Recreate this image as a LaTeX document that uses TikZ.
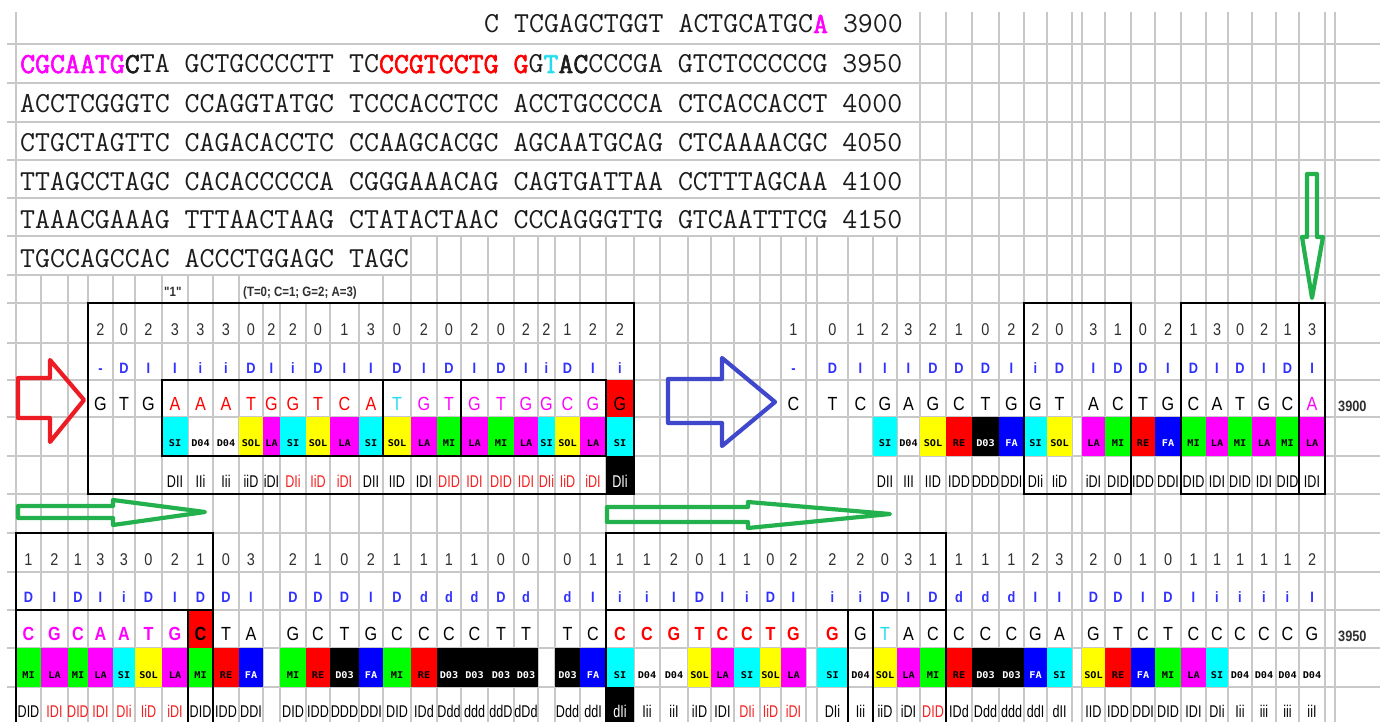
\documentclass[tikz,border=0pt]{standalone}
\usepackage{fontspec}
\setmainfont{Liberation Sans}
\newfontfamily\seqf{Latin Modern Mono}
\newfontfamily\seqfb[FakeBold=2.2]{Latin Modern Mono}
\newfontfamily\tabf[FakeStretch=0.85]{Liberation Sans}
\newfontfamily\codef[FakeStretch=0.74]{Liberation Sans}
\newfontfamily\pixf[FakeStretch=1.1]{DejaVu Sans Mono}

\definecolor{gridc}{HTML}{C8C8C8}
\definecolor{xcyan}{HTML}{00FFFF}
\definecolor{xyellow}{HTML}{FFFF00}
\definecolor{xmag}{HTML}{FF00FF}
\definecolor{xgreen}{HTML}{00FF00}
\definecolor{xred}{HTML}{FF0000}
\definecolor{xblue}{HTML}{0000FF}
\definecolor{tcyan}{HTML}{22DDEE}
\definecolor{codered}{HTML}{F42020}
\definecolor{dibl}{HTML}{3030FF}
\definecolor{numc}{HTML}{303030}
\definecolor{seqc}{HTML}{1C1C1C}
\definecolor{pred}{HTML}{ED1C24}
\definecolor{pgreen}{HTML}{22B14C}
\definecolor{pblue}{HTML}{3F48CC}

% column boundaries of the sheet
\def\xb{{16,41,68,88,113,135,162,188,213,239,263,280,306,330,359,383,411,437,461,488,514,538,555,580,606,634,660,688,711,734,760,781,806,817,848,873,897,920,946,972,999,1024,1047,1072,1082,1105,1131,1155,1181,1206,1228,1252,1276,1299,1325,1335,1380}}
\newcommand\cellx[1]{\pgfmathsetmacro\cxl{\xb[#1]}\pgfmathsetmacro\cxr{\xb[#1+1]}\pgfmathsetmacro\cxm{(\cxl+\cxr)/2}}
\newcommand\seqbold[1]{{\seqfb #1}}
% fixed-pitch word space for the sequence font
\newcommand\seqsetup{\seqf\fontsize{29.03}{29}\selectfont\fontdimen2\font=\fontcharwd\font`A\fontdimen3\font=0pt\fontdimen4\font=0pt}

\begin{document}
\begin{tikzpicture}[x=1pt,y=-1pt,
  grid/.style={draw=gridc, line width=1.3},
  boxline/.style={draw=black, line width=2.4},
  numtxt/.style={anchor=base, inner sep=0, font=\tabf\fontsize{17}{17}\selectfont, text=numc},
  ditxt/.style={anchor=base, inner sep=0, font=\tabf\bfseries\fontsize{15}{15}\selectfont, text=dibl},
  baseN/.style={anchor=base, inner sep=0, font=\tabf\fontsize{19}{19}\selectfont},
  baseB/.style={anchor=base, inner sep=0, font=\tabf\bfseries\fontsize{19}{19}\selectfont},
  labtxt/.style={anchor=base, inner sep=0, font=\pixf\bfseries\fontsize{9.3}{9}\selectfont},
  codetxt/.style={anchor=base, inner sep=0, font=\codef\fontsize{17}{17}\selectfont},
  seqtxt/.style={inner sep=0, font=\seqsetup, text=seqc},
  notetxt/.style={anchor=base west, inner sep=0, font=\tabf\bfseries\fontsize{13.5}{14}\selectfont, text=numc},
  posttxt/.style={anchor=base west, inner sep=0, font=\tabf\bfseries\fontsize{15}{15}\selectfont, text=numc},
  blockarrow/.style={line width=4.2, line join=round}]

\useasboundingbox (0,0) rectangle (1380,722);
\fill[white] (0,0) rectangle (1380,722);

% ---------- sheet grid ----------
\foreach \y in {44,83,122,160,198,236,275,303,343,380,417,456,494,533,572,610,648,687}
  \draw[grid] (7,\y) -- (1380,\y);
\draw[grid] (16,12) -- (16,722);
\foreach \i in {37,...,55} {\pgfmathsetmacro\xx{\xb[\i]}\draw[grid] (\xx,12) -- (\xx,722);}
\foreach \i in {16,...,36} {\pgfmathsetmacro\xx{\xb[\i]}\draw[grid] (\xx,236) -- (\xx,722);}
\foreach \i in {1,...,9,15} {\pgfmathsetmacro\xx{\xb[\i]}\draw[grid] (\xx,275) -- (\xx,722);}
\foreach \i in {10,...,14} {\pgfmathsetmacro\xx{\xb[\i]}\draw[grid] (\xx,303) -- (\xx,722);}

% ---------- sequence lines ----------
\node[seqtxt, anchor=base east] (s1) at (903,33) {C TCGAGCTGGT ACTGCATGC{\color{xmag}\seqbold{A}} 3900};
\node[seqtxt, anchor=base west] (s2) at (20,73) {{\color{xmag}\seqbold{CGCAATG}}\seqbold{C}TA GCTGCCCCTT TC{\color{xred}\seqbold{CCGTCCTG}} {\color{xred}\seqbold{G}}G{\color{tcyan}\seqbold{T}}\seqbold{AC}CCCGA GTCTCCCCCG 3950};
\node[seqtxt, anchor=base west] (s3) at (20,113) {ACCTCGGGTC CCAGGTATGC TCCCACCTCC ACCTGCCCCA CTCACCACCT 4000};
\node[seqtxt, anchor=base west] (s4) at (20,152) {CTGCTAGTTC CAGACACCTC CCAAGCACGC AGCAATGCAG CTCAAAACGC 4050};
\node[seqtxt, anchor=base west] (s5) at (20,190) {TTAGCCTAGC CACACCCCCA CGGGAAACAG CAGTGATTAA CCTTTAGCAA 4100};
\node[seqtxt, anchor=base west] (s6) at (20,228) {TAAACGAAAG TTTAACTAAG CTATACTAAC CCCAGGGTTG GTCAATTTCG 4150};
\node[seqtxt, anchor=base west] (s7) at (20,267) {TGCCAGCCAC ACCCTGGAGC TAGC};

% ---------- notes ----------
\node[notetxt] (q1) at (164,296) {"1"};
\node[notetxt] (key) at (243,296) {(T=0; C=1; G=2; A=3)};

% ---------- special cell fills ----------
\fill[xred] (606,380) rectangle (634,417);
\fill[black] (606,456) rectangle (634,494);
\fill[xred] (188,610) rectangle (213,648);
\fill[black] (606,687) rectangle (634,722);

% ---------- upper table ----------
\foreach \c/\t in {3/2,4/0,5/2,6/3,7/3,8/3,9/0,10/2,11/2,12/0,13/1,14/3,15/0,16/2,17/0,18/2,19/0,20/2,21/2,22/1,23/2,24/2,31/1,33/0,34/1,35/2,36/3,37/2,38/1,39/0,40/2,41/2,42/0,44/3,45/1,46/0,47/2,48/1,49/3,50/0,51/2,52/1,53/3}
  {\cellx{\c}\node[numtxt] (na\c) at (\cxm,335) {\t};}

\foreach \c/\t in {3/-,4/D,5/I,6/I,7/i,8/i,9/D,10/I,11/i,12/D,13/I,14/I,15/D,16/I,17/D,18/I,19/D,20/I,21/i,22/D,23/I,24/i,31/-,33/D,34/I,35/I,36/I,37/D,38/D,39/D,40/I,41/i,42/D,44/I,45/D,46/D,47/I,48/D,49/I,50/D,51/I,52/D,53/I}
  {\cellx{\c}\node[ditxt] (da\c) at (\cxm,373) {\t};}

\foreach \c/\t/\col in {3/G/black,4/T/black,5/G/black,6/A/xred,7/A/xred,8/A/xred,9/T/xred,10/G/xred,11/G/xred,12/T/xred,13/C/xred,14/A/xred,15/T/tcyan,16/G/xmag,17/T/xmag,18/G/xmag,19/T/xmag,20/G/xmag,21/G/xmag,22/C/xmag,23/G/xmag,24/G/black,31/C/black,33/T/black,34/C/black,35/G/black,36/A/black,37/G/black,38/C/black,39/T/black,40/G/black,41/G/black,42/T/black,44/A/black,45/C/black,46/T/black,47/G/black,48/C/black,49/A/black,50/T/black,51/G/black,52/C/black,53/A/xmag}
  {\cellx{\c}\node[baseN, text=\col] (ba\c) at (\cxm,410) {\t};}

\foreach \c/\t/\f/\tc in {6/SI/xcyan/black,7/D04/none/black,8/D04/none/black,9/SOL/xyellow/black,10/LA/xmag/black,11/SI/xcyan/black,12/SOL/xyellow/black,13/LA/xmag/black,14/SI/xcyan/black,15/SOL/xyellow/black,16/LA/xmag/black,17/MI/xgreen/black,18/LA/xmag/black,19/MI/xgreen/black,20/LA/xmag/black,21/SI/xcyan/black,22/SOL/xyellow/black,23/LA/xmag/black,24/SI/xcyan/black,35/SI/xcyan/black,36/D04/none/black,37/SOL/xyellow/black,38/RE/xred/black,39/D03/black/white,40/FA/xblue/white,41/SI/xcyan/black,42/SOL/xyellow/black,44/LA/xmag/black,45/MI/xgreen/black,46/RE/xred/black,47/FA/xblue/white,48/MI/xgreen/black,49/LA/xmag/black,50/MI/xgreen/black,51/LA/xmag/black,52/MI/xgreen/black,53/LA/xmag/black}
  {\cellx{\c}\path[fill=\f] (\cxl,417) rectangle (\cxr,456);
   \node[labtxt, text=\tc] (la\c) at (\cxm,446) {\t};}

\foreach \c/\t/\col in {6/DII/black,7/IIi/black,8/Iii/black,9/iiD/black,10/iDI/black,11/DIi/codered,12/IiD/codered,13/iDI/codered,14/DII/black,15/IID/black,16/IDI/black,17/DID/codered,18/IDI/codered,19/DID/codered,20/IDI/codered,21/DIi/codered,22/IiD/codered,23/iDI/codered,24/DIi/white,35/DII/black,36/III/black,37/IID/black,38/IDD/black,39/DDD/black,40/DDI/black,41/DIi/black,42/IiD/black,44/iDI/black,45/DID/black,46/IDD/black,47/DDI/black,48/DID/black,49/IDI/black,50/DID/black,51/IDI/black,52/DID/black,53/IDI/black}
  {\cellx{\c}\node[codetxt, text=\col] (ka\c) at (\cxm,487) {\t};}

\node[posttxt] (p3900) at (1338,411) {3900};

% ---------- lower table ----------
\foreach \c/\t in {0/1,1/2,2/1,3/3,4/3,5/0,6/2,7/1,8/0,9/3,11/2,12/1,13/0,14/2,15/1,16/1,17/1,18/1,19/0,20/0,22/0,23/1,24/1,25/1,26/2,27/0,28/1,29/1,30/0,31/2,33/2,34/2,35/0,36/3,37/1,38/1,39/1,40/1,41/2,42/3,44/2,45/0,46/1,47/0,48/1,49/1,50/1,51/1,52/1,53/2}
  {\cellx{\c}\node[numtxt] (nb\c) at (\cxm,565) {\t};}

\foreach \c/\t in {0/D,1/I,2/D,3/I,4/i,5/D,6/I,7/D,8/D,9/I,11/D,12/D,13/D,14/I,15/D,16/d,17/d,18/d,19/D,20/d,22/d,23/I,24/i,25/i,26/I,27/D,28/I,29/i,30/D,31/I,33/i,34/i,35/D,36/I,37/D,38/d,39/d,40/d,41/I,42/I,44/D,45/D,46/I,47/D,48/I,49/i,50/i,51/i,52/i,53/I}
  {\cellx{\c}\node[ditxt] (db\c) at (\cxm,602) {\t};}

\foreach \c/\t/\col/\w in {0/C/xmag/baseB,1/G/xmag/baseB,2/C/xmag/baseB,3/A/xmag/baseB,4/A/xmag/baseB,5/T/xmag/baseB,6/G/xmag/baseB,7/C/black/baseB,8/T/black/baseN,9/A/black/baseN,11/G/black/baseN,12/C/black/baseN,13/T/black/baseN,14/G/black/baseN,15/C/black/baseN,16/C/black/baseN,17/C/black/baseN,18/C/black/baseN,19/T/black/baseN,20/T/black/baseN,22/T/black/baseN,23/C/black/baseN,24/C/xred/baseB,25/C/xred/baseB,26/G/xred/baseB,27/T/xred/baseB,28/C/xred/baseB,29/C/xred/baseB,30/T/xred/baseB,31/G/xred/baseB,33/G/xred/baseB,34/G/black/baseN,35/T/tcyan/baseN,36/A/black/baseN,37/C/black/baseN,38/C/black/baseN,39/C/black/baseN,40/C/black/baseN,41/G/black/baseN,42/A/black/baseN,44/G/black/baseN,45/T/black/baseN,46/C/black/baseN,47/T/black/baseN,48/C/black/baseN,49/C/black/baseN,50/C/black/baseN,51/C/black/baseN,52/C/black/baseN,53/G/black/baseN}
  {\cellx{\c}\node[\w, text=\col] (bb\c) at (\cxm,640) {\t};}

\foreach \c/\t/\f/\tc in {0/MI/xgreen/black,1/LA/xmag/black,2/MI/xgreen/black,3/LA/xmag/black,4/SI/xcyan/black,5/SOL/xyellow/black,6/LA/xmag/black,7/MI/xgreen/black,8/RE/xred/black,9/FA/xblue/white,11/MI/xgreen/black,12/RE/xred/black,13/D03/black/white,14/FA/xblue/white,15/MI/xgreen/black,16/RE/xred/black,17/D03/black/white,18/D03/black/white,19/D03/black/white,20/D03/black/white,22/D03/black/white,23/FA/xblue/white,24/SI/xcyan/black,25/D04/none/black,26/D04/none/black,27/SOL/xyellow/black,28/LA/xmag/black,29/SI/xcyan/black,30/SOL/xyellow/black,31/LA/xmag/black,33/SI/xcyan/black,34/D04/none/black,35/SOL/xyellow/black,36/LA/xmag/black,37/MI/xgreen/black,38/RE/xred/black,39/D03/black/white,40/D03/black/white,41/FA/xblue/white,42/SI/xcyan/black,44/SOL/xyellow/black,45/RE/xred/black,46/FA/xblue/white,47/MI/xgreen/black,48/LA/xmag/black,49/SI/xcyan/black,50/D04/none/black,51/D04/none/black,52/D04/none/black,53/D04/none/black}
  {\cellx{\c}\path[fill=\f] (\cxl,648) rectangle (\cxr,687);
   \node[labtxt, text=\tc] (lb\c) at (\cxm,678) {\t};}

\foreach \c/\t/\col in {0/DID/black,1/IDI/codered,2/DID/codered,3/IDI/codered,4/DIi/codered,5/IiD/codered,6/iDI/codered,7/DID/black,8/IDD/black,9/DDI/black,11/DID/black,12/IDD/black,13/DDD/black,14/DDI/black,15/DID/black,16/IDd/black,17/Ddd/black,18/ddd/black,19/ddD/black,20/dDd/black,22/Ddd/black,23/ddI/black,24/dIi/white,25/Iii/black,26/iiI/black,27/iID/black,28/IDI/black,29/DIi/codered,30/IiD/codered,31/iDI/codered,33/DIi/black,34/Iii/black,35/iiD/black,36/iDI/black,37/DID/codered,38/IDd/black,39/Ddd/black,40/ddd/black,41/ddI/black,42/dII/black,44/IID/black,45/IDD/black,46/DDI/black,47/DID/black,48/IDI/black,49/DIi/black,50/Iii/black,51/iii/black,52/iii/black,53/iiI/black}
  {\cellx{\c}\node[codetxt, text=\col] (kb\c) at (\cxm,717) {\t};}

\node[posttxt] (p3950) at (1338,641) {3950};

% ---------- outlined groups ----------
\draw[boxline] (88,303) rectangle (634,494);
\draw[boxline] (162,380) rectangle (606,456);
\draw[boxline] (383,380) -- (383,456) (461,380) -- (461,456);
\draw[boxline] (1024,303) rectangle (1131,494);
\draw[boxline] (1181,303) rectangle (1325,494);
\draw[boxline] (1299,303) -- (1299,494);
\draw[boxline] (16,723) -- (16,533) -- (213,533) -- (213,723);
\draw[boxline] (16,610) -- (213,610) (188,610) -- (188,723);
\draw[boxline] (606,723) -- (606,533) -- (946,533) -- (946,723);
\draw[boxline] (606,610) -- (946,610) (848,610) -- (848,723) (873,610) -- (873,723);

% ---------- hand-drawn arrows ----------
\draw[blockarrow, pred] (18,378) -- (50,378) -- (50,360) -- (84,400) -- (50,442) -- (50,418) -- (18,418) -- cycle;
\draw[blockarrow, pblue] (668,379) -- (722,379) -- (722,358) -- (775,402) -- (722,446) -- (722,423) -- (668,423) -- cycle;
\draw[blockarrow, pgreen] (18,506) -- (113,506) -- (113,500) -- (205,512) -- (113,525) -- (113,518) -- (18,518) -- cycle;
\draw[blockarrow, pgreen] (607,507) -- (748,507) -- (748,502) -- (890,514) -- (748,528) -- (748,522) -- (607,522) -- cycle;
\draw[blockarrow, pgreen] (1307,174) -- (1317,174) -- (1317,237) -- (1323,237) -- (1312,298) -- (1302,237) -- (1307,237) -- cycle;
\end{tikzpicture}
\end{document}
